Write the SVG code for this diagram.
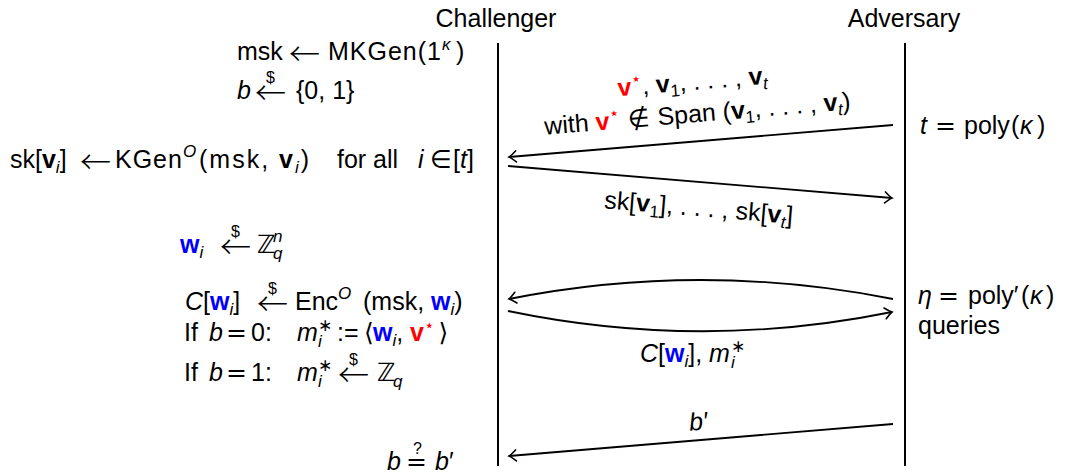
<svg xmlns="http://www.w3.org/2000/svg" width="1067" height="475" viewBox="0 0 1067 475">
<style>
.t{font-family:"Liberation Sans","DejaVu Sans",sans-serif;font-size:25px;fill:#000}
.it{font-style:italic}
.bf{font-weight:bold}
.s{font-size:17px}
.d{font-size:16px}
.r{fill:#ff0000}
.b{fill:#0000ff}
.ar{font-family:"Noto Sans CJK SC","DejaVu Sans",sans-serif;font-size:31px;font-weight:300}
.m{font-family:"DejaVu Sans",sans-serif}
.life{stroke:#000;stroke-width:2;fill:none}
.msg{stroke:#000;stroke-width:1.8;fill:none;marker-end:url(#head)}
</style>
<defs>
<marker id="head" markerWidth="14" markerHeight="14" refX="0" refY="0" viewBox="-8 -7 10 14" orient="auto" markerUnits="userSpaceOnUse">
<path d="M-7,-5.5 Q-2,-1 0,0 Q-2,1 -7,5.5" fill="none" stroke="#000" stroke-width="1.6" stroke-linecap="round"/>
</marker>
</defs>
<rect width="1067" height="475" fill="#fff"/>

<g id="challenger">
<text class="t" x="496" y="27" text-anchor="middle">Challenger</text>
<line class="life" x1="498" y1="43" x2="498" y2="466"/>
</g>
<g id="adversary">
<text class="t" x="904" y="27" text-anchor="middle">Adversary</text>
<line class="life" x1="905" y1="43" x2="905" y2="466"/>
</g>

<g id="challenger-setup">
<text class="t" x="237" y="60">msk<tspan class="ar" x="289" dy="5">←</tspan><tspan x="328" dy="-5" letter-spacing="1">MKGen(1</tspan><tspan class="s it" dy="-10">κ</tspan><tspan x="456" dy="10">)</tspan></text>
<text class="t" x="237" y="99"><tspan class="it">b</tspan><tspan class="ar" x="255" dy="5">←</tspan><tspan class="d" x="266" dy="-21">$</tspan><tspan x="296" dy="16">{0, 1}</tspan></text>
<text class="t" x="10" y="168">sk[<tspan class="bf">v</tspan><tspan class="s it" dy="5">i</tspan><tspan dy="-5">]</tspan><tspan class="ar" x="80" dy="5">←</tspan><tspan x="115" dy="-5" letter-spacing="1">KGen</tspan><tspan class="s it" dy="-11">O</tspan><tspan x="199" dy="11" letter-spacing="2">(msk, </tspan><tspan class="bf" letter-spacing="2">v</tspan><tspan class="s it" dy="5" letter-spacing="2">i</tspan><tspan dy="-5">)</tspan><tspan x="337">for all</tspan><tspan class="it" x="418">i</tspan><tspan class="m" x="430">∈</tspan><tspan x="453">[</tspan><tspan class="it">t</tspan>]</text>
</g>

<g id="challenger-queries">
<text class="t" x="180" y="253"><tspan class="bf b">w</tspan><tspan class="s it" dy="5">i</tspan><tspan class="ar" x="220" dy="0">←</tspan><tspan class="d" x="231" dy="-21">$</tspan><tspan class="m" x="257" dy="16">ℤ</tspan><tspan class="s it" x="273" dy="6">q</tspan><tspan class="s it" x="273" dy="-17">n</tspan></text>
<text class="t" x="185" y="310"><tspan class="it">C</tspan>[<tspan class="bf b">w</tspan><tspan class="s it" dy="5">i</tspan><tspan dy="-5">]</tspan><tspan class="ar" x="257" dy="5">←</tspan><tspan class="d" x="268" dy="-21">$</tspan><tspan x="295" dy="16">Enc</tspan><tspan class="s it" dy="-11">O</tspan><tspan x="363" dy="11">(msk, </tspan><tspan class="bf b">w</tspan><tspan class="s it" dy="5">i</tspan><tspan dy="-5">)</tspan></text>
<text class="t" x="184" y="341">If<tspan class="it" x="209">b</tspan><tspan class="m" x="226">=</tspan><tspan x="251">0:</tspan><tspan class="it" x="297">m</tspan><tspan class="s it" x="318" dy="6">i</tspan><tspan class="s" x="318" dy="-16">∗</tspan><tspan x="337" dy="10">:=</tspan><tspan class="m" x="364">⟨</tspan><tspan class="bf b" x="373">w</tspan><tspan class="s it" dy="5">i</tspan><tspan dy="-5">,</tspan><tspan class="bf r" x="410">v</tspan><tspan class="s r" dy="-10">⋆</tspan><tspan class="m" dx="4" dy="10">⟩</tspan></text>
<text class="t" x="184" y="381">If<tspan class="it" x="209">b</tspan><tspan class="m" x="226">=</tspan><tspan x="251">1:</tspan><tspan class="it" x="297">m</tspan><tspan class="s it" x="318" dy="6">i</tspan><tspan class="s" x="318" dy="-16">∗</tspan><tspan class="ar" x="338" dy="15">←</tspan><tspan class="d" x="349" dy="-21">$</tspan><tspan class="m" x="377" dy="16">ℤ</tspan><tspan class="s it" x="393" dy="6">q</tspan></text>
<text class="t" x="387" y="470"><tspan class="it">b</tspan><tspan class="m" x="406">=</tspan><tspan class="d" x="413" dy="-16">?</tspan><tspan class="it" x="435" dy="16">b</tspan>′</text>
</g>

<g id="adversary-notes">
<text class="t" x="920" y="134"><tspan class="it">t</tspan><tspan class="m" x="935">=</tspan><tspan x="964">poly</tspan><tspan x="1011">(</tspan><tspan class="it" x="1020">κ</tspan><tspan x="1037">)</tspan></text>
<text class="t" x="918" y="304"><tspan class="it">η</tspan><tspan class="m" x="938">=</tspan><tspan x="968">poly′</tspan><tspan x="1021">(</tspan><tspan class="it" x="1030">κ</tspan><tspan x="1046">)</tspan></text>
<text class="t" x="918" y="334">queries</text>
</g>

<g id="connectors">
<line class="msg" x1="893" y1="125" x2="509" y2="157"/>
<line class="msg" x1="508" y1="166" x2="892" y2="198"/>
<path class="msg" d="M893,299 Q700,261 509,299"/>
<path class="msg" d="M508,311 Q700,351 892,312"/>
<line class="msg" x1="893" y1="424" x2="509" y2="456"/>
<text class="t" transform="rotate(-4.75 693 90)" x="693" y="90" text-anchor="middle"><tspan class="bf r">v</tspan><tspan class="s r" dy="-10">⋆</tspan><tspan dy="10">, </tspan><tspan class="bf">v</tspan><tspan class="s" dy="5">1</tspan><tspan dy="-5">, . . . , </tspan><tspan class="bf">v</tspan><tspan class="s it" dy="5">t</tspan></text>
<text class="t" transform="rotate(-4.75 698 122)" x="698" y="122" text-anchor="middle">with <tspan class="bf r">v</tspan><tspan class="s r" dy="-10">⋆</tspan><tspan class="m" dy="10"> ∉ </tspan>Span (<tspan class="bf">v</tspan><tspan class="s" dy="5">1</tspan><tspan dy="-5">, . . . , </tspan><tspan class="bf">v</tspan><tspan class="s it" dy="5">t</tspan><tspan dy="-5">)</tspan></text>
<text class="t" transform="rotate(4.75 698 216)" x="698" y="216" text-anchor="middle">sk[<tspan class="bf">v</tspan><tspan class="s" dy="5">1</tspan><tspan dy="-5">], . . . , sk[</tspan><tspan class="bf">v</tspan><tspan class="s it" dy="5">t</tspan><tspan dy="-5">]</tspan></text>
<text class="t" x="640" y="362"><tspan class="it">C</tspan>[<tspan class="bf b">w</tspan><tspan class="s it" dy="5">i</tspan><tspan dy="-5">], </tspan><tspan class="it">m</tspan><tspan class="s it" x="731" dy="6">i</tspan><tspan class="s" x="731" dy="-16">∗</tspan></text>
<text class="t it" transform="rotate(-4.75 699 430)" x="699" y="430" text-anchor="middle">b′</text>
</g>
</svg>
